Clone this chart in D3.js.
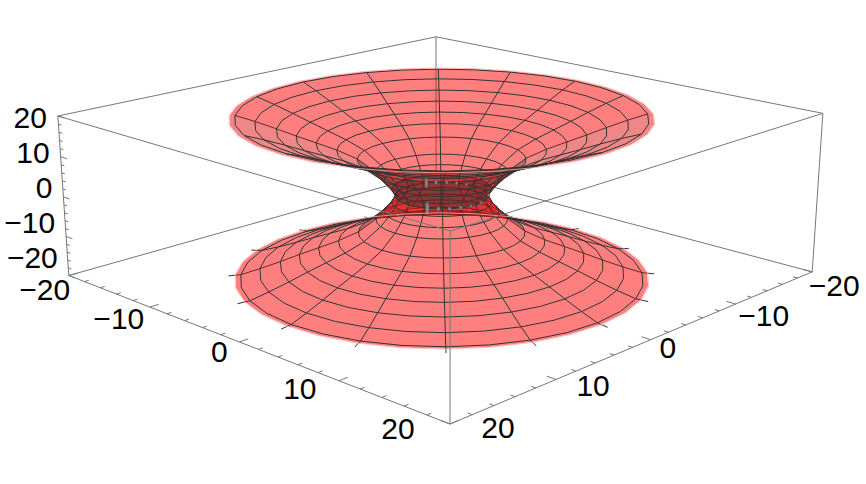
<!DOCTYPE html>
<html><head><meta charset="utf-8">
<style>html,body{margin:0;padding:0;background:#fff}svg{display:block}text{font-family:"Liberation Sans",Arial,sans-serif;fill:#000}</style>
<script src="https://cdnjs.cloudflare.com/ajax/libs/d3/7.8.5/d3.min.js"></script>
</head><body><svg id="c" width="866" height="484"></svg>
<script>
// --- values ---
const ringRadius=[15.26,13.8,12.23,10.78,9.31,7.8,6.29,4.95,4.3,3.75,3.5];
const ringHeight=[20.0,18.49,16.68,14.89,13.17,11.39,9.17,5.93,3.8,1.6,0];
const rimFillRadius=15.65;
const meridianCount=16;
const axisTicks=d3.range(-20,21,2);
const axisLabels=[-20,-10,0,10,20];
const holeAnglesBack=[-18.6,-6,7.3,20,33.6];
const holeSizesBack=[3.5,3,3,3,2.5];
const holeHeightsBack=[10,5,4,4,3];
const holeAnglesFront=[18.6,5,-8.6,-22.5,-36.5,-56,-90];
const holeSizesFront=[4,3.5,3.5,3.5,3,3,2.5];
const holeHeightsFront=[13,5,4,4,3,3,3];
const boxCorners=[ // [x,y,z, screenX, screenY] calibration of the view
 [-20,-20,20,435.7,36],[-20,20,20,58.3,116],[20,-20,20,822.7,113],[20,20,20,450.3,232.7],
 [-20,-20,-20,436.5,174],[-20,20,-20,68.3,274],[20,-20,-20,812.3,270.7],[20,20,-20,450,424.3]];
// --- fit camera matrix ---
function fitCamera(c){
 const A=[],b=[];
 c.forEach(([X,Y,Z,u,v])=>{
  A.push([X,Y,Z,1,0,0,0,0,-u*X,-u*Y,-u*Z]);b.push(u);
  A.push([0,0,0,0,X,Y,Z,1,-v*X,-v*Y,-v*Z]);b.push(v);
 });
 const n=11,M=d3.range(n).map(i=>d3.range(n+1).map(j=>{
  let s=0;for(let k=0;k<A.length;k++)s+=A[k][i]*(j<n?A[k][j]:b[k]);return s;}));
 for(let i=0;i<n;i++){
  let p=i;for(let r=i+1;r<n;r++)if(Math.abs(M[r][i])>Math.abs(M[p][i]))p=r;
  [M[i],M[p]]=[M[p],M[i]];
  for(let r=0;r<n;r++)if(r!==i){const f=M[r][i]/M[i][i];for(let j=i;j<=n;j++)M[r][j]-=f*M[i][j];}
 }
 return d3.range(n).map(i=>M[i][n]/M[i][i]);
}
const P=fitCamera(boxCorners);
const proj=(X,Y,Z)=>{const w=P[8]*X+P[9]*Y+P[10]*Z+1;
 return [(P[0]*X+P[1]*Y+P[2]*Z+P[3])/w,(P[4]*X+P[5]*Y+P[6]*Z+P[7])/w,w];};
const svg=d3.select("#c");
const line=d3.line();
const gray="#777";
const edge=(g,a,b,w=1,col=gray)=>g.append("path").attr("d",line([proj(...a),proj(...b)].map(p=>p.slice(0,2))))
  .attr("fill","none").attr("stroke",col).attr("stroke-width",w);
const gBack=svg.append("g");
const c=(x,y,z)=>[x*20,y*20,z*20];
[[c(-1,-1,1),c(-1,1,1)],[c(-1,-1,1),c(1,-1,1)],[c(-1,-1,1),c(-1,-1,-1)],[c(-1,-1,-1),c(-1,1,-1)],[c(-1,-1,-1),c(1,-1,-1)]]
 .forEach(e=>edge(gBack,e[0],e[1]));
// surface
const rings=ringRadius.map((r,i)=>({r,z:ringHeight[i]}));
const prof=[{r:rimFillRadius,z:20.0,fillOnly:true},...rings,...rings.slice(0,-1).reverse().map(d=>({r:d.r,z:-d.z})),{r:rimFillRadius,z:-20.0,fillOnly:true}];
const dTh=2*Math.PI/meridianCount, sub=2;
const pt=(d,th)=>proj(d.r*Math.cos(th),d.r*Math.sin(th),d.z);
const cells=[];
for(let i=0;i<prof.length-1;i++)for(let j=0;j<meridianCount;j++){
 const a=prof[i],b=prof[i+1],t0=j*dTh,poly=[];
 for(let k=0;k<=sub;k++)poly.push(pt(a,t0+k*dTh/sub));
 for(let k=sub;k>=0;k--)poly.push(pt(b,t0+k*dTh/sub));
 const tm=t0+dTh/2;
 const back=(Math.cos(tm)+Math.sin(tm))<0;
 cells.push({i,j,poly,back,w:d3.mean(poly,p=>p[2]),rm:(a.r+b.r)/2,zm:(a.z+b.z)/2,a,b,t0});
}
const front=proj(20,20,0)[2]<proj(-20,-20,0)[2];
const order=(x,y)=>front?y.w-x.w:x.w-y.w;
// shading: walls turned away from the light around the neck are darker
const kind=d=>{
 if(d.rm>=7)return d.zm>0&&!d.back?"dull":"plain";
 if(!d.back&&d.zm>0)return "brown";
 if(d.back&&d.zm<0)return "deep";
 if(d.back&&d.rm<3.9)return "deep";
 return "plain";};
const fills={plain:["#ff0000",0.5],dull:["#e01010",0.5],brown:["#701414",0.6],deep:["#900000",0.6]};
function drawHalf(list,isBack){
 const g=svg.append("g");
 g.selectAll("path.f").data(list.slice().sort(order)).join("path").attr("class","f")
  .attr("d",d=>line(d.poly.map(p=>p.slice(0,2)))+"Z").attr("fill",d=>fills[kind(d)][0]).attr("fill-opacity",d=>fills[kind(d)][1]);
 const ms=g.append("g").attr("fill","none").attr("stroke","#333").attr("stroke-width",1);
 prof.forEach(a=>{ if(a.fillOnly)return;
  for(let j=0;j<meridianCount;j++){const tm=(j+.5)*dTh;
   if(((Math.cos(tm)+Math.sin(tm))<0)!==isBack)continue;
   const pts=d3.range(sub+1).map(k=>pt(a,j*dTh+k*dTh/sub).slice(0,2));
   ms.append("path").attr("d",line(pts));}
 });
 for(let j=0;j<meridianCount;j++){
  const th=j*dTh, isB=(Math.cos(th)+Math.sin(th))<-1e-6;
  const edgeCase=Math.abs(Math.cos(th)+Math.sin(th))<1e-6;
  if(!edgeCase&&isB!==isBack)continue;
  if(edgeCase&&!isBack)continue;
  const list2=prof.filter(d=>!d.fillOnly);
  const ext=[{r:16.2,z:-20.3}];
  ms.append("path").attr("d",line([...list2,...ext].map(d=>pt(d,th).slice(0,2))));
 }
}
drawHalf(cells.filter(d=>d.back),true);
drawHalf(cells.filter(d=>!d.back),false);
// small gaps along the waist ring
const waist=rings[rings.length-1];
function hole(deg,w,h,base){
 const p=pt(waist,base+deg*Math.PI/180);
 svg.append("ellipse").attr("cx",p[0]).attr("cy",p[1]).attr("rx",w/2).attr("ry",h/2)
  .attr("fill","#8f8383").attr("stroke","#444").attr("stroke-width",0.6);
}
holeAnglesBack.forEach((a,i)=>hole(a,holeSizesBack[i],holeHeightsBack[i],5*Math.PI/4));
holeAnglesFront.forEach((a,i)=>hole(a,holeSizesFront[i],holeHeightsFront[i],Math.PI/4));
// light rim
[20,-20].forEach(z=>{
 svg.append("path").attr("d",line(d3.range(meridianCount*sub).map(k=>pt({r:rimFillRadius+0.05,z},k*dTh/sub).slice(0,2)))+"Z")
  .attr("fill","none").attr("stroke","#ffb4b4").attr("stroke-width",0.8);
});
// front box edges
const gFront=svg.append("g");
[[c(1,1,1),c(-1,1,1)],[c(1,1,1),c(1,-1,1)],[c(1,1,1),c(1,1,-1)],[c(-1,1,1),c(-1,1,-1)],[c(1,-1,1),c(1,-1,-1)],[c(1,1,-1),c(-1,1,-1)],[c(1,1,-1),c(1,-1,-1)]]
 .forEach(e=>edge(gFront,e[0],e[1]));
const tickLen=v=>v%10===0?0.8:0.4;
axisTicks.forEach(v=>{
 edge(gFront,[v,20,-20],[v,20-tickLen(v),-20]);
 edge(gFront,[20,v,-20],[20-tickLen(v),v,-20]);
 edge(gFront,[-20,20,v],[-20+tickLen(v),20,v]);
});
// labels
const lab=(s,p,dx,dy,anchor)=>svg.append("text").attr("x",p[0]+dx).attr("y",p[1]+dy).attr("dy","0.36em")
 .attr("text-anchor",anchor).attr("font-size",30).text(s);
const fmt=v=>v<0?"\u2212"+(-v):""+v;
const ofs=r=>d3.scaleLinear(axisLabels,r);
const lx=ofs([-24,-31,-20,-39,-52]),ly=ofs([14,11,9,7,4]);
const rx=ofs([22,28,17,37,48]),ry=ofs([13,11,8,6,3]);
const zy=ofs([-18,-14,-10,-5,1]);
axisLabels.forEach(v=>{
 lab(fmt(v),proj(v,20,-20),lx(v),ly(v),"middle");
 lab(fmt(v),proj(20,v,-20),rx(v),ry(v),"middle");
 lab(fmt(v),proj(-20,20,v),-11,zy(v),"end");
});
</script></body></html>
